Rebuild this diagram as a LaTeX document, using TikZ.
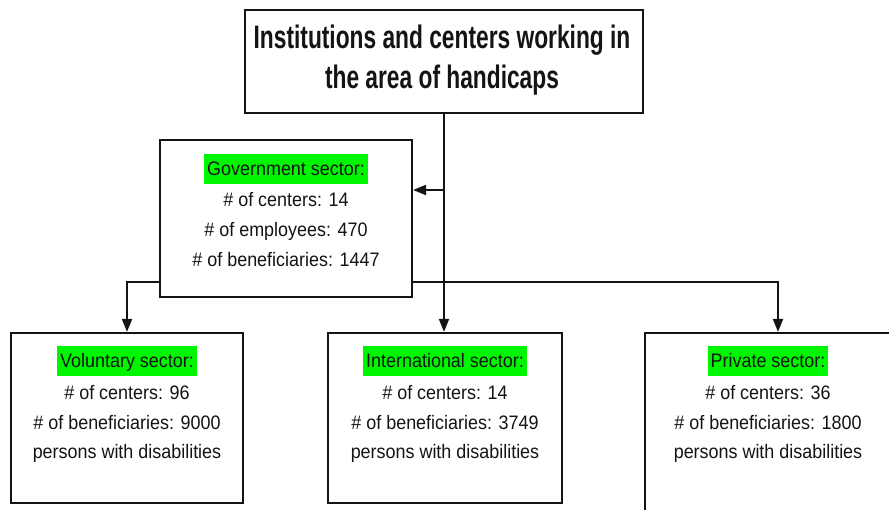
\documentclass[tikz,border=0pt]{standalone}
\usepackage{fontspec}
\setmainfont{Liberation Sans}
\newfontfamily\titlefont[FakeStretch=0.7]{Liberation Sans}
\newfontfamily\bodyfont[FakeStretch=0.92]{Liberation Sans}
\usetikzlibrary{arrows.meta}
\definecolor{hl}{RGB}{0,245,0}
\definecolor{ln}{RGB}{20,20,20}
\begin{document}
\begin{tikzpicture}[x=1pt,y=-1pt,
  box/.style={draw=ln, line width=2.2pt, fill=white, inner sep=0pt},
  conn/.style={draw=ln, line width=2pt},
  arr/.style={conn, -{Triangle[length=13pt,width=10pt]}},
  txt/.style={font=\bodyfont\fontsize{19.5}{22}\selectfont, anchor=base, inner sep=0pt, text=ln},
  lbl/.style={txt, fill=hl, inner xsep=3pt, inner ysep=6pt, text height=16pt, text depth=2pt},
  ttl/.style={font=\titlefont\bfseries\fontsize{32.5}{40}\selectfont, anchor=base, inner sep=0pt, text=ln}]
\clip (0,0) rectangle (889,510);
\fill[white] (0,0) rectangle (889,510);
% boxes
\node[box, minimum width=398pt, minimum height=103pt] (title) at (444,61.5) {};
\node[box, minimum width=252pt, minimum height=157pt] (gov) at (286,218.5) {};
\node[box, minimum width=232pt, minimum height=170pt] (vol) at (127,418) {};
\node[box, minimum width=234pt, minimum height=170pt] (intl) at (445,418) {};
\node[box, minimum width=266pt, minimum height=186pt] (priv) at (778,426) {};
% title text
\node[ttl] (t1) at (442,49) {Institutions and centers working in};
\node[ttl] (t2) at (442,89) {the area of handicaps};
% government
\node[lbl] (g0) at (286,176) {Government sector:};
\node[txt] (g1) at (286,207) {\# of centers: 14};
\node[txt] (g2) at (286,237) {\# of employees: 470};
\node[txt] (g3) at (286,267) {\# of beneficiaries: 1447};
% voluntary
\node[lbl] (v0) at (127,368) {Voluntary sector:};
\node[txt] (v1) at (127,400) {\# of centers: 96};
\node[txt] (v2) at (127,429) {\# of beneficiaries: 9000};
\node[txt] (v3) at (127,458) {persons with disabilities};
% international
\node[lbl] (i0) at (445,368) {International sector:};
\node[txt] (i1) at (445,400) {\# of centers: 14};
\node[txt] (i2) at (445,429) {\# of beneficiaries: 3749};
\node[txt] (i3) at (445,458) {persons with disabilities};
% private
\node[lbl] (p0) at (768,368) {Private sector:};
\node[txt] (p1) at (768,400) {\# of centers: 36};
\node[txt] (p2) at (768,429) {\# of beneficiaries: 1800};
\node[txt] (p3) at (768,458) {persons with disabilities};
% connectors
\draw[arr] (title.south) -- (title.south |- intl.north);
\coordinate (j1) at (444,190);
\draw[arr] (j1) -- (j1 -| gov.east);
\coordinate (hy) at (0,282);
\draw[arr] (gov.west |- hy) -| (vol.north);
\draw[arr] (gov.east |- hy) -| (priv.north);
\end{tikzpicture}
\end{document}
